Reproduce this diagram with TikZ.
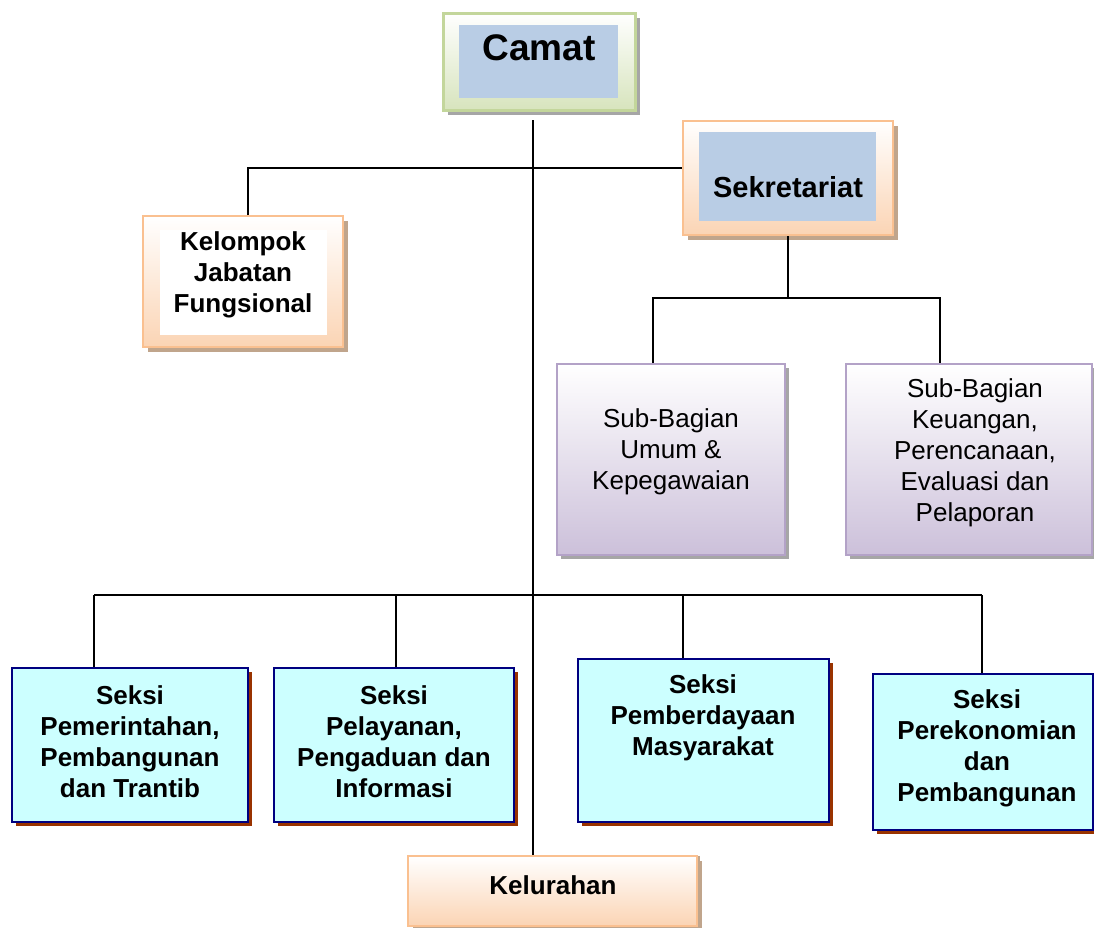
\documentclass[tikz,border=0pt]{standalone}
\usepackage{fontspec}
\setmainfont{Liberation Sans}
\usetikzlibrary{shadows}

\definecolor{greenline}{HTML}{C3D69B}
\definecolor{greenfill}{HTML}{D7E4BD}
\definecolor{innerblue}{HTML}{B9CDE5}
\definecolor{orangeline}{HTML}{FAC090}
\definecolor{orangefill}{HTML}{FBD4B4}
\definecolor{purpleline}{HTML}{B3A2C7}
\definecolor{purplefill}{HTML}{CCC0DA}
\definecolor{cyanfill}{HTML}{CCFFFF}
\definecolor{navyline}{HTML}{000080}
\definecolor{brownshadow}{HTML}{993300}
\definecolor{grayshadow}{HTML}{A6A6A6}
\definecolor{tanshadow}{HTML}{C0A58C}

\begin{document}
\begin{tikzpicture}[x=1pt, y=-1pt,
	box/.style={rectangle, inner sep=0pt},
	camatbox/.style={box, draw=greenline, line width=3pt, top color=white, bottom color=greenfill,
		drop shadow={shadow xshift=5pt, shadow yshift=-5pt, fill=grayshadow, opacity=1}},
	orangebox/.style={box, draw=orangeline, line width=2pt, top color=white, bottom color=orangefill,
		drop shadow={shadow xshift=5pt, shadow yshift=-5pt, fill=tanshadow, opacity=1}},
	purplebox/.style={box, draw=purpleline, line width=2pt, top color=white, bottom color=purplefill,
		drop shadow={shadow xshift=4pt, shadow yshift=-4pt, fill=grayshadow, opacity=1}},
	seksibox/.style={box, draw=navyline, line width=2pt, fill=cyanfill,
		drop shadow={shadow xshift=4pt, shadow yshift=-4pt, fill=brownshadow, opacity=1}},
	inner/.style={box},
	txt/.style={inner sep=0pt, align=center, font=\fontsize{26}{31}\selectfont},
	btxt/.style={txt, font=\bfseries\fontsize{26}{31}\selectfont},
	conn/.style={line width=1.2pt}]

	\useasboundingbox (0,0) rectangle (1094,927);

	% bus points
	\coordinate (trunk) at (533,120);
	\coordinate (jb) at (248,168);
	\coordinate (sb1) at (653,298);
	\coordinate (sb2) at (940,298);
	\coordinate (b1) at (94,595);
	\coordinate (b2) at (396,595);
	\coordinate (b3) at (683,595);
	\coordinate (b4) at (982,595);

	% top
	\draw
	(539, 61.5) node [camatbox, minimum width=192, minimum height=97] (camatbox) {}
	(538.5, 61.5) node [inner, fill=innerblue, minimum width=159, minimum height=73] (camatin) {}
	(539, 48) node [txt, font=\bfseries\fontsize{37}{44}\selectfont] (camat) {Camat};

	\draw
	(788, 178) node [orangebox, minimum width=210, minimum height=114] (sekbox) {}
	(787.5, 176.5) node [inner, fill=innerblue, minimum width=177, minimum height=89] (sekin) {}
	(788, 187) node [txt, font=\bfseries\fontsize{29}{35}\selectfont] (sek) {Sekretariat};

	\draw
	(243, 281.5) node [orangebox, minimum width=200, minimum height=131] (kjfbox) {}
	(243.5, 282.5) node [inner, fill=white, minimum width=167, minimum height=105] (kjfin) {}
	(243, 275) node [btxt] (kjf) {Kelompok\\Jabatan\\Fungsional};

	% sub-bagian
	\draw
	(671, 459.5) node [purplebox, minimum width=228, minimum height=191] (sbubox) {}
	(671, 452) node [txt] (sbu) {Sub-Bagian\\Umum \&\\Kepegawaian};

	\draw
	(969, 459.5) node [purplebox, minimum width=246, minimum height=191] (sbkbox) {}
	(975, 453) node [txt] (sbk) {Sub-Bagian\\Keuangan,\\Perencanaan,\\Evaluasi dan\\Pelaporan};

	% seksi
	\draw
	(130, 745) node [seksibox, minimum width=236, minimum height=154] (s1box) {}
	(130, 742) node [btxt] (s1) {Seksi\\Pemerintahan,\\Pembangunan\\dan Trantib};

	\draw
	(394, 745) node [seksibox, minimum width=240, minimum height=154] (s2box) {}
	(394, 742) node [btxt] (s2) {Seksi\\Pelayanan,\\Pengaduan dan\\Informasi};

	\draw
	(703.5, 740.5) node [seksibox, minimum width=251, minimum height=163] (s3box) {}
	(703, 718) node [btxt] (s3) {Seksi\\Pemberdayaan\\Masyarakat};

	\draw
	(983, 752) node [seksibox, minimum width=220, minimum height=156] (s4box) {}
	(987, 748) node [btxt] (s4) {Seksi\\Perekonomian\\dan\\Pembangunan};

	% bottom
	\draw
	(552.5, 891) node [orangebox, drop shadow={shadow xshift=3pt, shadow yshift=0pt, fill=tanshadow, opacity=1}, minimum width=289, minimum height=70] (kelbox) {}
	(553, 885) node [btxt] (kel) {Kelurahan};

	% lines
	\draw[conn] (trunk) -- (trunk |- kelbox.north);
	\draw[conn] (kjfbox.north -| jb) -- (jb) -- (jb -| sekbox.west);
	\draw[conn] (sekbox.south) -- (sekbox.south |- sb1);
	\draw[conn] (sb1 |- sbubox.north) -- (sb1) -- (sb2) -- (sb2 |- sbkbox.north);
	\draw[conn] (b1) -- (b4);
	\draw[conn] (b1) -- (b1 |- s1box.north);
	\draw[conn] (b2) -- (b2 |- s2box.north);
	\draw[conn] (b3) -- (b3 |- s3box.north);
	\draw[conn] (b4) -- (b4 |- s4box.north);
\end{tikzpicture}
\end{document}
